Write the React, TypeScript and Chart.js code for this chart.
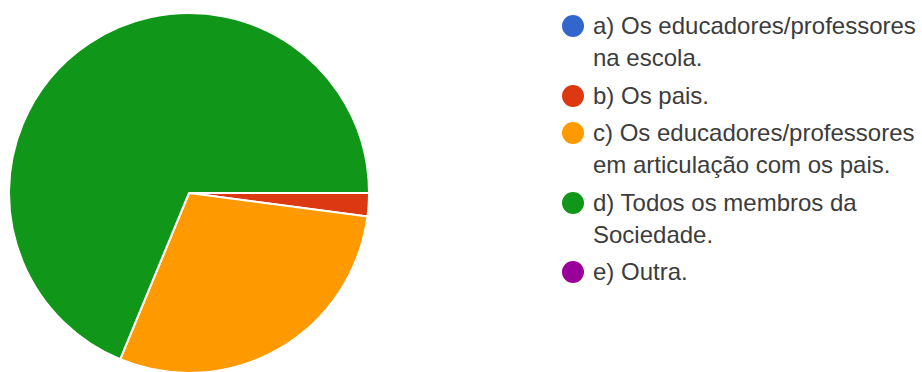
import React, { useEffect, useRef } from "react";
import { Chart, registerables } from "chart.js";

Chart.register(...registerables);

const categories: string[] = [
  "a) Os educadores/professores na escola.",
  "b) Os pais.",
  "c) Os educadores/professores em articulação com os pais.",
  "d) Todos os membros da Sociedade.",
  "e) Outra.",
];
const legendLines: string[][] = [
  ["a) Os educadores/professores", "na escola."],
  ["b) Os pais."],
  ["c) Os educadores/professores", "em articulação com os pais."],
  ["d) Todos os membros da", "Sociedade."],
  ["e) Outra."],
];
const responses: number[] = [0, 1, 14, 33, 0];
const colors: string[] = ["#3366cc", "#dc3912", "#ff9900", "#109618", "#990099"];

export default function App() {
  const ref = useRef<HTMLCanvasElement | null>(null);
  useEffect(() => {
    if (!ref.current) return;
    const chart = new Chart(ref.current, {
      type: "pie",
      data: {
        labels: categories,
        datasets: [
          {
            data: responses,
            backgroundColor: colors,
            borderColor: "#ffffff",
            borderWidth: 2,
          },
        ],
      },
      options: {
        animation: false,
        responsive: false,
        maintainAspectRatio: false,
        rotation: 90,
        layout: { padding: 0 },
        plugins: { legend: { display: false }, tooltip: { enabled: false } },
      },
    });
    return () => chart.destroy();
  }, []);

  return (
    <div
      style={{
        position: "fixed",
        left: 0,
        top: 0,
        width: 922,
        height: 372,
        overflow: "hidden",
        background: "#ffffff",
      }}
    >
      <div style={{ position: "absolute", left: 8, top: 12, width: 362, height: 362 }}>
        <canvas ref={ref} width={362} height={362} style={{ width: 362, height: 362 }} />
      </div>
      <div
        style={{
          position: "absolute",
          left: 562,
          top: 10,
          fontFamily: "'Liberation Sans', Arial, sans-serif",
          fontSize: 24,
          color: "#3c3c3c",
        }}
      >
        {legendLines.map((lines, i) => (
          <div key={i} style={{ position: "relative", paddingLeft: 31, marginBottom: 5.5 }}>
            <span
              style={{
                position: "absolute",
                left: 0,
                top: 5,
                width: 22,
                height: 22,
                borderRadius: "50%",
                background: colors[i],
              }}
            />
            {lines.map((t, j) => (
              <div key={j} style={{ lineHeight: "32px", whiteSpace: "nowrap" }}>
                {t}
              </div>
            ))}
          </div>
        ))}
      </div>
    </div>
  );
}
